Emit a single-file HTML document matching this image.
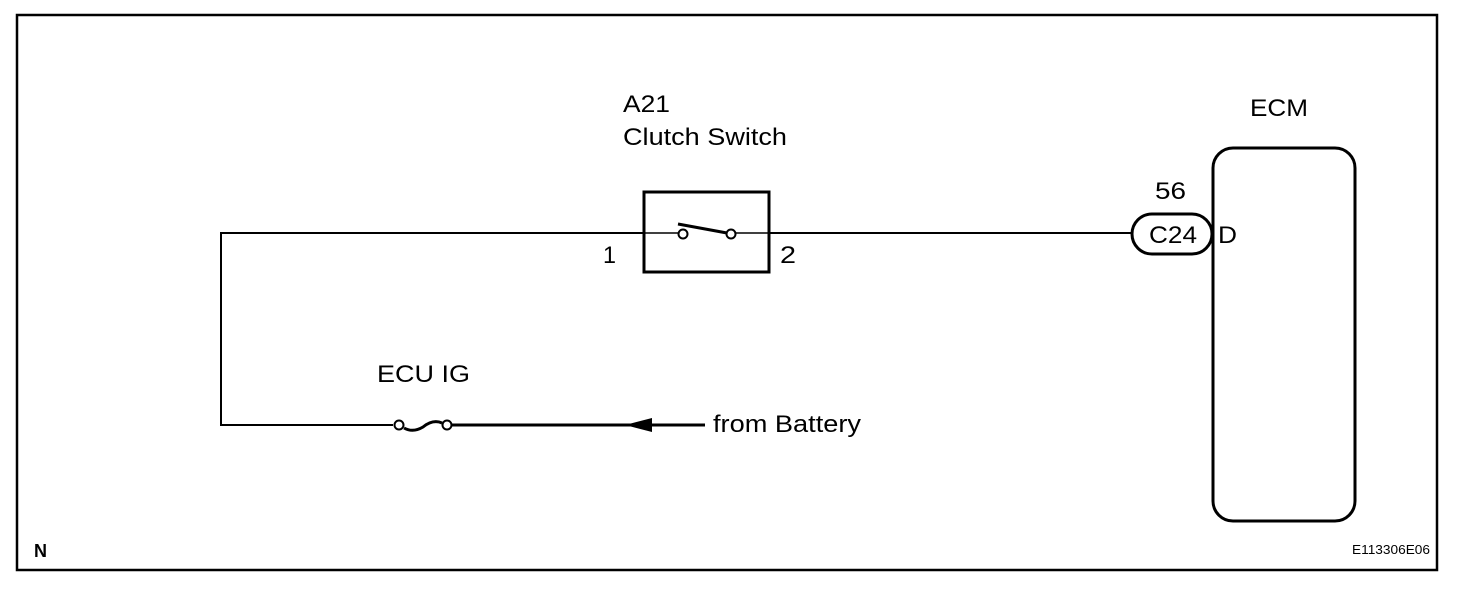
<!DOCTYPE html>
<html><head><meta charset="utf-8"><style>
html,body{margin:0;padding:0;background:#fff;}
svg{display:block;}
text{font-family:"Liberation Sans",Arial,sans-serif;fill:#000;}
</style></head><body>
<svg width="1472" height="590" viewBox="0 0 1472 590" xmlns="http://www.w3.org/2000/svg">
<rect x="17" y="15" width="1420" height="555" fill="none" stroke="#000" stroke-width="2.5"/>
<polyline points="643,233 221,233 221,425 393,425" fill="none" stroke="#000" stroke-width="2"/>
<line x1="452" y1="425" x2="705" y2="425" stroke="#000" stroke-width="3"/>
<line x1="770" y1="233" x2="1132" y2="233" stroke="#000" stroke-width="2"/>
<line x1="643" y1="233" x2="678" y2="233" stroke="#000" stroke-width="1.5"/>
<line x1="736" y1="233" x2="770" y2="233" stroke="#000" stroke-width="1.5"/>
<rect x="644" y="192" width="125" height="80" fill="none" stroke="#000" stroke-width="3"/>
<circle cx="683" cy="234" r="4.5" fill="#fff" stroke="#000" stroke-width="2"/>
<circle cx="731" cy="234" r="4.5" fill="#fff" stroke="#000" stroke-width="2"/>
<line x1="678" y1="224" x2="727" y2="233" stroke="#000" stroke-width="3"/>
<text x="623" y="112" font-size="24" textLength="47" lengthAdjust="spacingAndGlyphs">A21</text>
<text x="623" y="145" font-size="24" textLength="164" lengthAdjust="spacingAndGlyphs">Clutch Switch</text>
<text x="603" y="263" font-size="24" textLength="13" lengthAdjust="spacingAndGlyphs">1</text>
<text x="780" y="263" font-size="24" textLength="16" lengthAdjust="spacingAndGlyphs">2</text>
<circle cx="399" cy="425" r="4.5" fill="#fff" stroke="#000" stroke-width="2"/>
<circle cx="447" cy="425" r="4.5" fill="#fff" stroke="#000" stroke-width="2"/>
<path d="M404,428 Q413,433 423,427 Q433,419 442,423" fill="none" stroke="#000" stroke-width="3"/>
<text x="377" y="382" font-size="24" textLength="93" lengthAdjust="spacingAndGlyphs">ECU IG</text>
<polygon points="625,425 652,418 652,432" fill="#000"/>
<text x="713" y="432" font-size="24" textLength="148" lengthAdjust="spacingAndGlyphs">from Battery</text>
<rect x="1213" y="148" width="142" height="373" rx="20" fill="none" stroke="#000" stroke-width="3"/>
<text x="1250" y="116" font-size="24" textLength="58" lengthAdjust="spacingAndGlyphs">ECM</text>
<rect x="1132" y="214" width="80" height="40" rx="20" fill="#fff" stroke="#000" stroke-width="3"/>
<text x="1149" y="243" font-size="24" textLength="48" lengthAdjust="spacingAndGlyphs">C24</text>
<text x="1155" y="199" font-size="24" textLength="31" lengthAdjust="spacingAndGlyphs">56</text>
<text x="1218" y="243" font-size="24" textLength="19" lengthAdjust="spacingAndGlyphs">D</text>
<text x="34" y="557" font-size="18" font-weight="bold">N</text>
<text x="1352" y="554" font-size="13" textLength="78" lengthAdjust="spacingAndGlyphs">E113306E06</text>
</svg>
</body></html>
